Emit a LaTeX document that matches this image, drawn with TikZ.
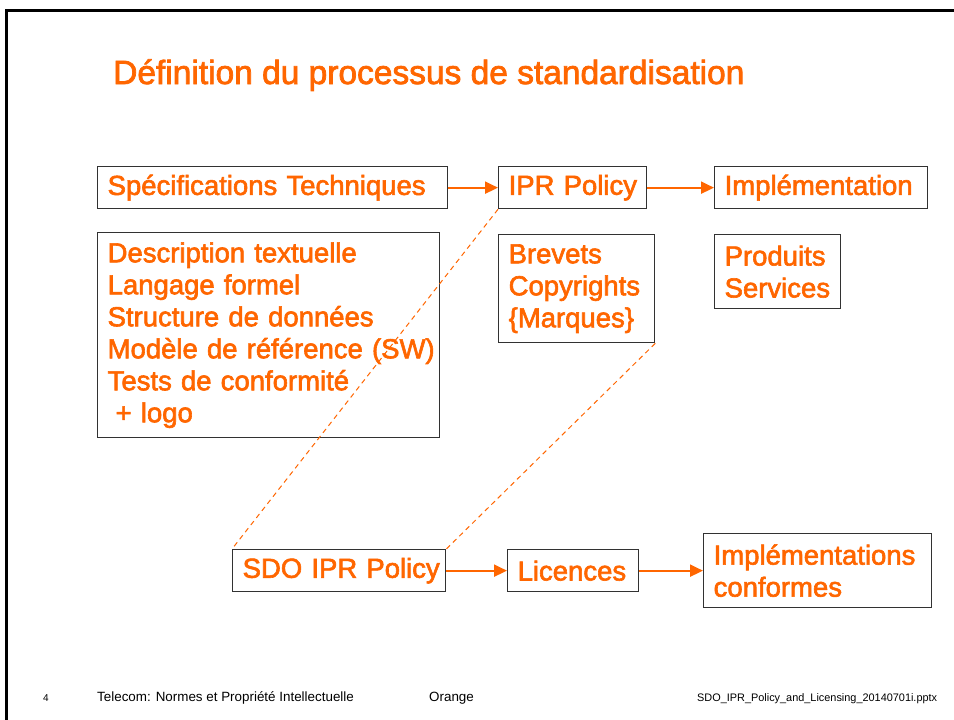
\documentclass[tikz,border=0pt]{standalone}
\usepackage{fontspec}
\setmainfont{Liberation Sans}
\newfontfamily\medfont{Liberation Sans}[FakeBold=2.2]
\usetikzlibrary{arrows.meta}
\definecolor{orng}{RGB}{255,102,0}
\definecolor{boxgray}{RGB}{50,50,50}
\newcommand\keepln[1]{\mbox{#1}}
\begin{document}
\begin{tikzpicture}[x=1pt,y=-1pt,
  box/.style={draw=boxgray, line width=1.3pt, anchor=north west, inner xsep=10pt, inner ysep=0pt,
    align=left, text=orng, font=\medfont\fontsize{27.5}{32}\selectfont},
  flow/.style={draw=orng, line width=2pt, -{Triangle[length=13pt,width=12pt]}},
  link/.style={draw=orng, line width=1pt, dash pattern=on 5pt off 4pt},
  foot/.style={anchor=base west, inner sep=0pt, text=black}]
\useasboundingbox (0,0) rectangle (954,720);
\fill[white] (0,0) rectangle (954,720);
% frame
\draw[line width=3pt, black] (6.5,720) -- (6.5,10.5) -- (954,10.5);
% title
\node[anchor=base west, inner sep=0pt, text=orng, font=\medfont\fontsize{33.5}{38}\selectfont] (title) at (113,84) {Définition du processus de standardisation};
% top row
\node[box, minimum width=350pt, minimum height=42pt, text width=330pt] (spec) at (97,166) {\keepln{Spécifications Techniques}};
\node[box, minimum width=148pt, minimum height=42pt, text width=128pt] (ipr) at (498,166) {\keepln{IPR Policy}};
\node[box, minimum width=213pt, minimum height=42pt, text width=193pt] (impl) at (714,166) {\keepln{Implémentation}};
% second row
\node[box, minimum width=342pt, minimum height=205pt, text width=322pt] (desc) at (97,232) {\keepln{Description textuelle}\\\keepln{Langage formel}\\\keepln{Structure de données}\\\keepln{Modèle de référence (SW)}\\\keepln{Tests de conformité}\\\keepln{\hspace*{8pt}+ logo}};
\node[box, minimum width=156pt, minimum height=108pt, text width=136pt] (brev) at (498,234) {\keepln{Brevets}\\\keepln{Copyrights}\\\keepln{\{Marques\}}};
\node[box, minimum width=126pt, minimum height=74pt, text width=106pt] (prod) at (714,234) {\keepln{Produits}\\\keepln{Services}};
% bottom row
\node[box, minimum width=213pt, minimum height=42pt, text width=193pt] (sdo) at (232,549) {\keepln{SDO IPR Policy}};
\node[box, minimum width=131pt, minimum height=42pt, text width=111pt] (lic) at (507,549) {\keepln{Licences}};
\node[box, minimum width=228pt, minimum height=74pt, text width=208pt] (implc) at (703,533) {\keepln{Implémentations}\\\keepln{conformes}};
% arrows
\draw[flow] (spec.east) -- (ipr.west);
\draw[flow] (ipr.east) -- (impl.west);
\draw[flow] (sdo.east) -- (lic.west);
\draw[flow] (lic.east) -- (lic.east -| implc.west);
% dashed links
\draw[link] (ipr.south west) -- (sdo.north west);
\draw[link] (brev.south east) -- (sdo.north east);
% footer
\node[foot, font=\fontsize{10}{12}\selectfont] (pg) at (43,701) {4};
\node[foot, font=\fontsize{13.4}{16}\selectfont] (ft1) at (97,701) {Telecom: Normes et Propriété Intellectuelle};
\node[foot, font=\fontsize{13.4}{16}\selectfont] (ft2) at (429,701) {Orange};
\node[foot, font=\fontsize{10.9}{13}\selectfont] (ft3) at (697,701) {SDO\_IPR\_Policy\_and\_Licensing\_20140701i.pptx};
\end{tikzpicture}
\end{document}
